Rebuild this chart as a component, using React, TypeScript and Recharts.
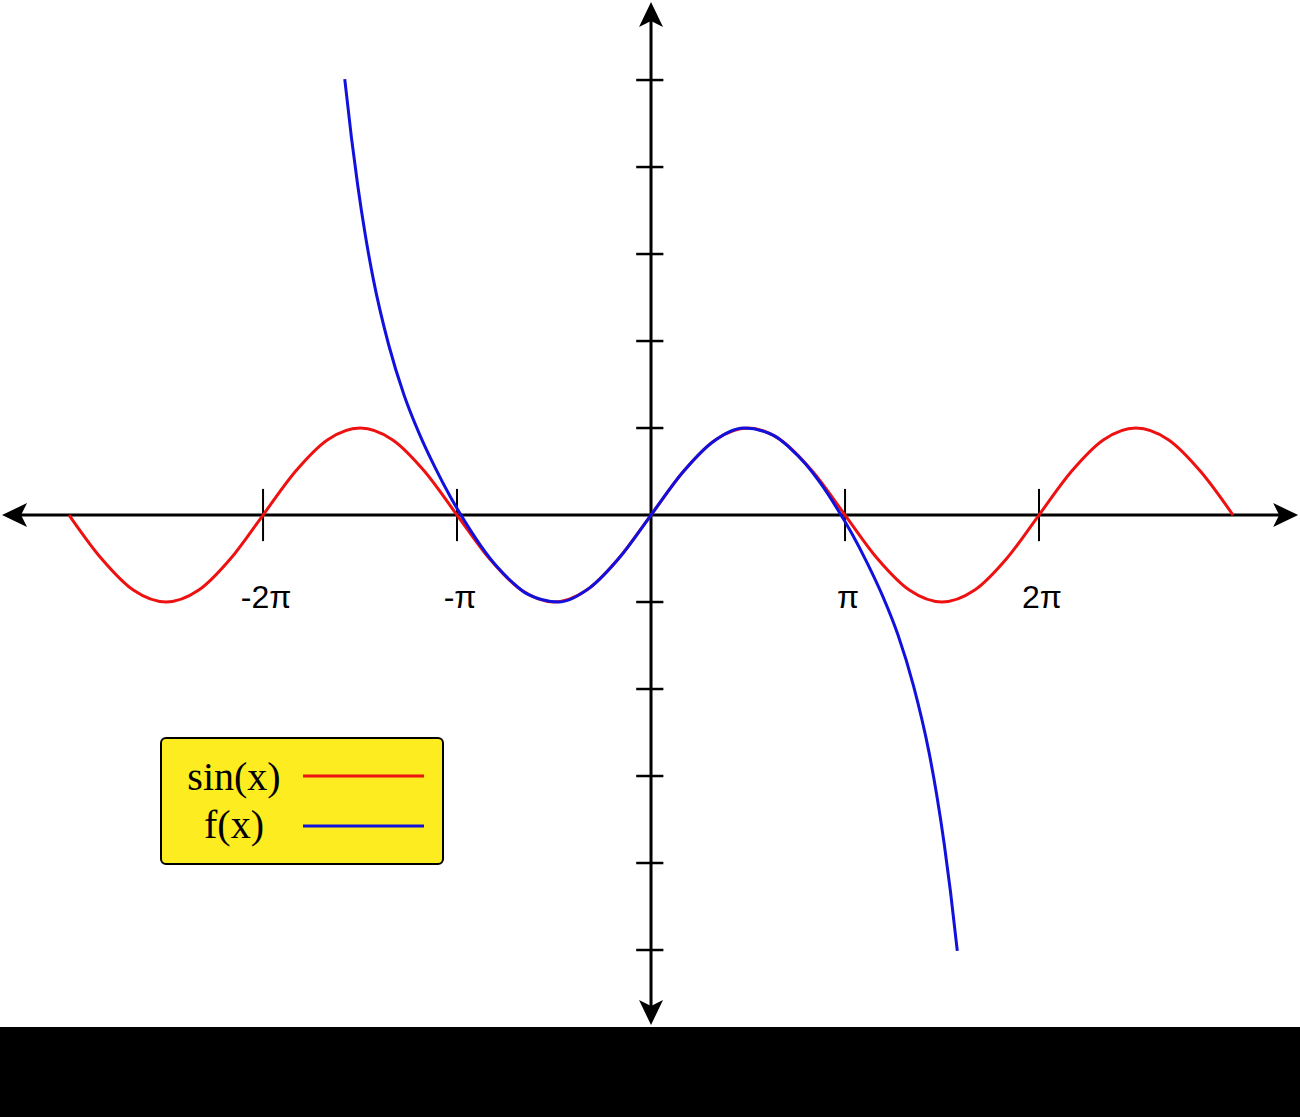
import React from 'react';
import { LineChart, Line, XAxis, YAxis, ReferenceLine, Legend } from 'recharts';

// sin(x), read every pi/6 from -3pi to 3pi
const sinX = [
  -9.425, -8.901, -8.378, -7.854, -7.330, -6.807, -6.283, -5.760, -5.236, -4.712,
  -4.189, -3.665, -3.142, -2.618, -2.094, -1.571, -1.047, -0.524, 0,
  0.524, 1.047, 1.571, 2.094, 2.618, 3.142, 3.665, 4.189, 4.712, 5.236,
  5.760, 6.283, 6.807, 7.330, 7.854, 8.378, 8.901, 9.425,
];
const sinY = [
  0, -0.5, -0.866, -1, -0.866, -0.5, 0, 0.5, 0.866, 1,
  0.866, 0.5, 0, -0.5, -0.866, -1, -0.866, -0.5, 0,
  0.5, 0.866, 1, 0.866, 0.5, 0, -0.5, -0.866, -1, -0.866,
  -0.5, 0, 0.5, 0.866, 1, 0.866, 0.5, 0,
];

// f(x), the polynomial that follows sin near the origin and leaves the frame at +-5
const fX = [
  -4.96, -4.85, -4.75, -4.625, -4.5, -4.25, -4.0, -3.75, -3.5, -3.25, -3.0, -2.75, -2.5, -2.25,
  -2.0, -1.5, -1.0, -0.5, 0, 0.5, 1.0, 1.5, 2.0,
  2.25, 2.5, 2.75, 3.0, 3.25, 3.5, 3.75, 4.0, 4.25, 4.5, 4.625, 4.75, 4.85, 4.96,
];
const fY = [
  5.01, 4.33, 3.79, 3.21, 2.72, 1.96, 1.38, 0.93, 0.55, 0.21, -0.09, -0.36, -0.59, -0.77,
  -0.91, -1.0, -0.84, -0.48, 0, 0.48, 0.84, 1.0, 0.91,
  0.77, 0.59, 0.36, 0.09, -0.21, -0.55, -0.93, -1.38, -1.96, -2.72, -3.21, -3.79, -4.33, -5.01,
];

const xTickValues = [-6.283, -3.142, 3.142, 6.283];
const xTickLabels = ['-2π', '-π', 'π', '2π'];
const yTickValues = [-5, -4, -3, -2, -1, 1, 2, 3, 4, 5];
const legendOrder = ['sin(x)', 'f(x)'];

const xDomain = [-10.543, 10.51];
const yDomain = [-5.885, 5.92];
const xAxisEnds = [-10.51, 10.48];
const yAxisEnds = [-5.862, 5.897];

const sinData = sinX.map((x, i) => ({ x, y: sinY[i] }));
const fData = fX.map((x, i) => ({ x, y: fY[i] }));

const RED = '#ee1111';
const BLUE = '#1111dd';

// axis line with an arrow head on both ends
const ArrowLine = (props: any) => {
  const { x1, y1, x2, y2 } = props;
  const len = Math.hypot(x2 - x1, y2 - y1) || 1;
  const ux = (x2 - x1) / len;
  const uy = (y2 - y1) / len;
  const nx = -uy;
  const ny = ux;
  const head = (tx: number, ty: number, dx: number, dy: number) => {
    const bx = tx - dx * 25;
    const by = ty - dy * 25;
    const mx = tx - dx * 19;
    const my = ty - dy * 19;
    return `M${tx},${ty} L${bx + nx * 12},${by + ny * 12} L${mx},${my} L${bx - nx * 12},${by - ny * 12} Z`;
  };
  return (
    <g>
      <line x1={x1 + ux * 15} y1={y1 + uy * 15} x2={x2 - ux * 15} y2={y2 - uy * 15} stroke="#000" strokeWidth={3} />
      <path d={head(x2, y2, ux, uy)} fill="#000" />
      <path d={head(x1, y1, -ux, -uy)} fill="#000" />
    </g>
  );
};

const LegendBox = (props: any) => {
  const items = [...(props.payload || [])].sort(
    (a: any, b: any) => legendOrder.indexOf(a.value) - legendOrder.indexOf(b.value)
  );
  return (
    <svg width={284} height={128} style={{ display: 'block' }}>
      <rect x={1} y={1} width={282} height={126} rx={5} fill="#fcec20" stroke="#000" strokeWidth={2} />
      {items.map((entry: any, i: number) => (
        <g key={entry.value}>
          <text
            x={74}
            y={53 + i * 48}
            textAnchor="middle"
            fontFamily="'Liberation Serif', 'Times New Roman', serif"
            fontSize={40}
            fill="#000"
          >
            {entry.value}
          </text>
          <line x1={143} y1={39 + i * 50} x2={264} y2={39 + i * 50} stroke={entry.color} strokeWidth={3} />
        </g>
      ))}
    </svg>
  );
};

export default function App() {
  return (
    <div style={{ position: 'absolute', left: 0, top: 0, width: 1300, height: 1117, background: '#fff' }}>
      <LineChart width={1300} height={1027} margin={{ top: 0, right: 0, bottom: 0, left: 0 }}>
        <XAxis type="number" dataKey="x" domain={xDomain} allowDataOverflow hide />
        <YAxis type="number" dataKey="y" domain={yDomain} allowDataOverflow hide />

        <ReferenceLine
          segment={[{ x: xAxisEnds[0], y: 0 }, { x: xAxisEnds[1], y: 0 }]}
          shape={ArrowLine}
        />
        <ReferenceLine
          segment={[{ x: 0, y: yAxisEnds[1] }, { x: 0, y: yAxisEnds[0] }]}
          shape={ArrowLine}
        />

        {xTickValues.map((v, i) => (
          <ReferenceLine
            key={'xt' + i}
            segment={[{ x: v, y: -0.3 }, { x: v, y: 0.3 }]}
            stroke="#000"
            strokeWidth={2}
            label={(p: any) => {
              const vb = p.viewBox || {};
              return (
                <text
                  x={vb.x + (vb.width || 0) / 2 + 3}
                  y={vb.y + (vb.height || 0) + 67}
                  textAnchor="middle"
                  fontFamily="'Liberation Sans', Arial, sans-serif"
                  fontSize={32}
                  fill="#000"
                >
                  {xTickLabels[i]}
                </text>
              );
            }}
          />
        ))}
        {yTickValues.map((v) => (
          <ReferenceLine
            key={'yt' + v}
            segment={[{ x: -0.24, y: v }, { x: 0.2, y: v }]}
            stroke="#000"
            strokeWidth={2.5}
          />
        ))}

        <Line
          data={sinData}
          dataKey="y"
          name="sin(x)"
          type="monotone"
          stroke={RED}
          strokeWidth={3}
          dot={false}
          activeDot={false}
          isAnimationActive={false}
        />
        <Line
          data={fData}
          dataKey="y"
          name="f(x)"
          type="monotone"
          stroke={BLUE}
          strokeWidth={3}
          dot={false}
          activeDot={false}
          isAnimationActive={false}
        />

        <Legend
          layout="vertical"
          align="center"
          verticalAlign="middle"
          content={LegendBox}
          wrapperStyle={{ left: 160, top: 737, width: 284, height: 128 }}
        />
      </LineChart>
      <div style={{ width: 1300, height: 90, background: '#000' }} />
    </div>
  );
}
